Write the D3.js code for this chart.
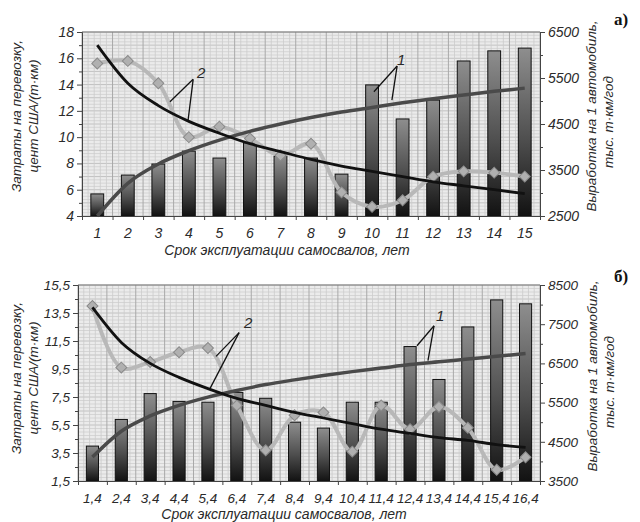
<!DOCTYPE html>
<html>
<head>
<meta charset="utf-8">
<script src="https://cdn.jsdelivr.net/npm/d3@7"></script>
<style>
  body { margin: 0; background: #fff; }
  svg text { font-family: "Liberation Sans Narrow", "Liberation Sans", Arial, sans-serif; font-style: italic; fill: #2a2a2a; }
  svg text.panel-tag { font-family: "Liberation Serif", "Times New Roman", serif; font-style: normal; font-weight: bold; fill: #111; }
</style>
</head>
<body>
<svg id="chart" width="640" height="522"></svg>
<script>
// panel a) - years 1..15
const yearsA = ['1', '2', '3', '4', '5', '6', '7', '8', '9', '10', '11', '12', '13', '14', '15'];
const outputA = [2980, 3390, 3630, 3910, 3760, 4090, 3800, 3760, 3410, 5350, 4610, 5020, 5870, 6090, 6150];
const costA = [15.6, 15.8, 14.1, 10.0, 10.8, 9.9, 8.6, 9.5, 5.8, 4.7, 5.2, 7.0, 7.4, 7.3, 7.0];
const costTrendA = [17.0, 14.1, 12.4, 11.2, 10.3, 9.5, 8.9, 8.3, 7.8, 7.4, 7.0, 6.6, 6.3, 6.0, 5.7];
const outputTrendA = [2500, 3210, 3630, 3920, 4150, 4340, 4500, 4640, 4760, 4860, 4960, 5050, 5130, 5210, 5280];
const costTicksA = [4, 6, 8, 10, 12, 14, 16, 18];
const outputTicksA = [2500, 3500, 4500, 5500, 6500];

// panel б) - years 1,4..16,4
const yearsB = ['1,4', '2,4', '3,4', '4,4', '5,4', '6,4', '7,4', '8,4', '9,4', '10,4', '11,4', '12,4', '13,4', '14,4', '15,4', '16,4'];
const outputB = [4390, 5070, 5730, 5530, 5510, 5760, 5610, 5000, 4850, 5510, 5510, 6930, 6090, 7430, 8120, 8020];
const costB = [14.0, 9.6, 10.0, 10.7, 11.0, 6.9, 3.7, 6.2, 6.4, 3.6, 6.9, 5.2, 6.8, 5.3, 2.3, 3.2];
const costTrendB = [13.9, 11.4, 9.9, 8.9, 8.1, 7.4, 6.9, 6.4, 6.0, 5.6, 5.2, 4.9, 4.6, 4.4, 4.1, 3.9];
const outputTrendB = [4110, 4770, 5160, 5430, 5640, 5810, 5960, 6080, 6190, 6290, 6380, 6470, 6540, 6610, 6680, 6750];
const costTicksB = [1.5, 3.5, 5.5, 7.5, 9.5, 11.5, 13.5, 15.5];
const outputTicksB = [3500, 4500, 5500, 6500, 7500, 8500];

// callouts: [category index, value] in data units, label "1" on output axis, "2" on cost axis
const calloutsA = {
  two: { label: [4.40, 14.9], hub: [4.14, 14.4], ends: [[3.38, 12.7], [3.97, 11.2]] },
  one: { label: [10.95, 5890], hub: [10.82, 5760], ends: [[10.06, 5200], [10.65, 5020]] }
};
const calloutsB = {
  two: { label: [6.39, 12.8], hub: [6.08, 12.1], ends: [[5.28, 10.4], [5.07, 8.1]] },
  one: { label: [13.04, 7710], hub: [12.83, 7460], ends: [[12.24, 6950], [12.62, 6570]] }
};

const svg = d3.select('#chart');

const grad = svg.append('defs').append('linearGradient')
  .attr('id', 'barGrad')
  .attr('x1', 0).attr('y1', 0).attr('x2', 0).attr('y2', 1);
grad.append('stop').attr('offset', '0%').attr('stop-color', '#8e8e8e');
grad.append('stop').attr('offset', '55%').attr('stop-color', '#4e4e4e');
grad.append('stop').attr('offset', '100%').attr('stop-color', '#121212');

const comma = (d) => String(d).replace('.', ',');

function drawPanel(p) {
  const g = svg.append('g');
  const n = p.cats.length;

  const x = d3.scaleBand()
    .domain(p.cats)
    .range([p.left, p.right])
    .paddingInner(0.58)
    .paddingOuter(0.29);
  const xi = d3.scaleLinear().domain([0.5, n + 0.5]).range([p.left, p.right]);
  const yL = d3.scaleLinear().domain([p.costTicks[0], p.costTicks[p.costTicks.length - 1]]).range([p.bottom, p.top]);
  const yR = d3.scaleLinear().domain([p.outTicks[0], p.outTicks[p.outTicks.length - 1]]).range([p.bottom, p.top]);
  const cx = (i) => x(p.cats[i]) + x.bandwidth() / 2;

  // background mesh
  g.append('rect')
    .attr('x', p.left).attr('y', p.top)
    .attr('width', p.right - p.left).attr('height', p.bottom - p.top)
    .attr('fill', '#ebebeb');

  const [c0, c1] = yL.domain();
  g.append('g').selectAll('line')
    .data(d3.range(c0, c1 + 0.001, 0.25))
    .enter().append('line')
    .attr('x1', p.left).attr('x2', p.right)
    .attr('y1', (d) => yL(d)).attr('y2', (d) => yL(d))
    .attr('stroke', (d, i) => (i % 4 === 0 ? '#b8b8b8' : '#cfcfcf'))
    .attr('stroke-width', 0.8);

  g.append('g').selectAll('line')
    .data(d3.range(0, n * 5 + 1))
    .enter().append('line')
    .attr('x1', (d) => xi(0.5 + d / 5)).attr('x2', (d) => xi(0.5 + d / 5))
    .attr('y1', p.top).attr('y2', p.bottom)
    .attr('stroke', (d) => (d % 5 === 0 ? '#a9a9a9' : '#cccccc'))
    .attr('stroke-width', (d) => (d % 5 === 0 ? 1 : 0.8));

  // bars - output
  g.append('g').selectAll('rect')
    .data(p.output)
    .enter().append('rect')
    .attr('x', (d, i) => x(p.cats[i]))
    .attr('y', (d) => yR(d))
    .attr('width', x.bandwidth())
    .attr('height', (d) => p.bottom - yR(d))
    .attr('fill', 'url(#barGrad)')
    .attr('stroke', '#111')
    .attr('stroke-width', 1);

  // cost, smoothed with diamonds
  const costLine = d3.line()
    .x((d, i) => cx(i))
    .y((d) => yL(d))
    .curve(d3.curveCatmullRom.alpha(0.5));
  g.append('path')
    .datum(p.cost)
    .attr('d', costLine)
    .attr('fill', 'none')
    .attr('stroke', '#b8b8b8')
    .attr('stroke-width', 4);

  g.append('g').selectAll('path')
    .data(p.cost)
    .enter().append('path')
    .attr('d', d3.symbol(d3.symbolSquare, 60))
    .attr('transform', (d, i) => `translate(${cx(i)},${yL(d)}) rotate(45)`)
    .attr('fill', '#b0b0b0')
    .attr('stroke', '#8a8a8a')
    .attr('stroke-width', 1);

  // trends
  g.append('path')
    .datum(p.outputTrend)
    .attr('d', d3.line().x((d, i) => cx(i)).y((d) => yR(d)).curve(d3.curveMonotoneX))
    .attr('fill', 'none')
    .attr('stroke', '#4a4a4a')
    .attr('stroke-width', 3.5);

  g.append('path')
    .datum(p.costTrend)
    .attr('d', d3.line().x((d, i) => cx(i)).y((d) => yL(d)).curve(d3.curveMonotoneX))
    .attr('fill', 'none')
    .attr('stroke', '#111')
    .attr('stroke-width', 2.8);

  // frame top
  g.append('line')
    .attr('x1', p.left).attr('x2', p.right)
    .attr('y1', p.top).attr('y2', p.top)
    .attr('stroke', '#777');

  // axes
  const leftAxis = g.append('g')
    .attr('transform', `translate(${p.left},0)`)
    .call(d3.axisLeft(yL).tickValues(p.costTicks).tickSize(5).tickPadding(3).tickFormat(comma));
  g.append('g')
    .attr('transform', `translate(${p.left},0)`)
    .call(d3.axisLeft(yL).tickValues(d3.range(c0 + 1, c1, 2)).tickSize(3).tickFormat(''))
    .select('.domain').remove();

  const [o0, o1] = yR.domain();
  const rightAxis = g.append('g')
    .attr('transform', `translate(${p.right},0)`)
    .call(d3.axisRight(yR).tickValues(p.outTicks).tickSize(5).tickPadding(3).tickFormat((d) => String(d)));
  g.append('g')
    .attr('transform', `translate(${p.right},0)`)
    .call(d3.axisRight(yR).tickValues(d3.range(o0 + 500, o1, 1000)).tickSize(3).tickFormat(''))
    .select('.domain').remove();

  const bottomAxis = g.append('g')
    .attr('transform', `translate(0,${p.bottom})`)
    .call(d3.axisBottom(x).tickSize(0).tickPadding(p.xPad));
  bottomAxis.select('.domain').remove();
  g.append('g')
    .attr('transform', `translate(0,${p.bottom})`)
    .call(d3.axisBottom(xi).tickValues(d3.range(0.5, n + 1, 1)).tickSize(4).tickFormat(''))
    .select('.domain').attr('stroke', '#444');

  [leftAxis, rightAxis].forEach((a) => {
    a.select('.domain').attr('stroke', '#444');
  });
  g.selectAll('.tick line').attr('stroke', '#444');
  g.selectAll('.tick text')
    .attr('font-size', p.tickFont)
    .attr('font-family', null)
    .attr('fill', '#2a2a2a');

  // axis titles
  g.append('text')
    .attr('x', (p.left + p.right) / 2 + p.xTitleShift)
    .attr('y', p.xTitleY)
    .attr('text-anchor', 'middle')
    .attr('font-size', 14)
    .text('Срок эксплуатации самосвалов, лет');

  const yTitle = (tx, ty, txt) => g.append('text')
    .attr('transform', `translate(${tx},${ty}) rotate(-90)`)
    .attr('text-anchor', 'middle')
    .attr('font-size', 13.5)
    .text(txt);
  yTitle(p.lTitleX, p.lTitleY, 'Затраты на перевозку,');
  yTitle(p.lTitleX + 17, p.lTitleY, 'цент США/(т·км)');
  yTitle(p.rTitleX, p.rTitleY, 'Выработка на 1 автомобиль,');
  yTitle(p.rTitleX + 17, p.rTitleY + 6, 'тыс. т·км/год');

  g.append('text')
    .attr('class', 'panel-tag')
    .attr('x', 614).attr('y', p.tagY)
    .attr('font-size', 17)
    .text(p.tag);

  // callouts
  const callout = (c, yScale, txt) => {
    const hub = [xi(c.hub[0]), yScale(c.hub[1])];
    c.ends.forEach((e) => {
      g.append('line')
        .attr('x1', hub[0]).attr('y1', hub[1])
        .attr('x2', xi(e[0])).attr('y2', yScale(e[1]))
        .attr('stroke', '#111').attr('stroke-width', 1.3);
    });
    g.append('text')
      .attr('x', xi(c.label[0])).attr('y', yScale(c.label[1]) + 5)
      .attr('text-anchor', 'middle')
      .attr('font-size', 15)
      .text(txt);
  };
  callout(p.callouts.two, yL, '2');
  callout(p.callouts.one, yR, '1');
}

drawPanel({
  cats: yearsA, output: outputA, cost: costA, costTrend: costTrendA, outputTrend: outputTrendA,
  costTicks: costTicksA, outTicks: outputTicksA, callouts: calloutsA,
  left: 82, right: 540, top: 32, bottom: 216,
  tickFont: 14, xPad: 12, xTitleY: 255, xTitleShift: -24,
  lTitleX: 21, lTitleY: 116, rTitleX: 596, rTitleY: 116,
  tag: 'а)', tagY: 25
});

drawPanel({
  cats: yearsB, output: outputB, cost: costB, costTrend: costTrendB, outputTrend: outputTrendB,
  costTicks: costTicksB, outTicks: outputTicksB, callouts: calloutsB,
  left: 78, right: 540, top: 285, bottom: 481,
  tickFont: 13.5, xPad: 12, xTitleY: 519, xTitleShift: -25,
  lTitleX: 21, lTitleY: 378, rTitleX: 597, rTitleY: 376,
  tag: 'б)', tagY: 282
});
</script>
</body>
</html>
